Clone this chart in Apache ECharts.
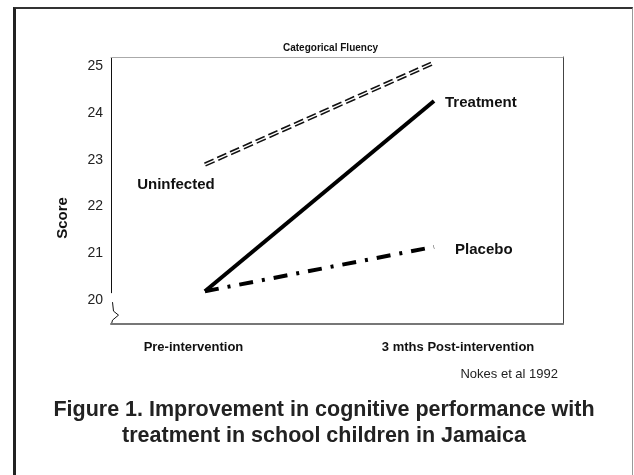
<!DOCTYPE html>
<html>
<head>
<meta charset="utf-8">
<script src="https://cdn.jsdelivr.net/npm/echarts@6/dist/echarts.min.js"></script>
<style>
html, body { margin: 0; padding: 0; background: #fff; }
#frame { position: absolute; left: 13px; top: 7px; width: 616px; height: 480px;
         border-left: 3px solid #222; border-top: 2px solid #333; border-right: 1px solid #999; }
#chart { position: absolute; left: 0; top: 0; width: 634px; height: 475px; }
</style>
</head>
<body>
<div id="frame"></div>
<div id="chart"></div>
<script>
// data
const categories = ['Pre-intervention', '3 mths Post-intervention']
const uninfected = [22.9, 25.08]
const treatment  = [20.19, 24.26]
const placebo    = [20.19, 21.14]
const yTicks     = [20, 21, 22, 23, 24, 25]

const FONT = '"Liberation Sans", Arial, sans-serif'
const X_MIN = -0.41, X_MAX = 1.563      // category 0 / 1 sit inside the box like the original
const Y_MIN = 19.49, Y_MAX = 25.2
const Y_BREAK = 20.15                    // where the left axis is broken

const pts = arr => arr.map((v, i) => [i, v])

const chart = echarts.init(document.getElementById('chart'), null, { renderer: 'canvas' })

chart.setOption({
    animation: false,
    title: {
        text: 'Categorical Fluency',
        left: 278, top: 38,
        textStyle: { fontFamily: FONT, fontSize: 10, fontWeight: 'bold', color: '#111' }
    },
    grid: { left: 111, right: 71, top: 57, bottom: 151, containLabel: false, outerBoundsMode: 'none' },
    xAxis: [
        {
            type: 'value', min: X_MIN, max: X_MAX, position: 'bottom',
            axisLine: { show: true, onZero: false, lineStyle: { color: '#777', width: 2 } },
            axisTick: { show: false },
            splitLine: { show: false },
            axisLabel: {
                customValues: [-0.05, 1.105],
                formatter: v => categories[v < 0.5 ? 0 : 1],
                margin: 17,
                fontFamily: FONT, fontSize: 13, fontWeight: 'bold', color: '#111'
            }
        },
        {
            type: 'value', min: X_MIN, max: X_MAX, position: 'top',
            axisLine: { show: true, onZero: false, lineStyle: { color: '#aaa', width: 1 } },
            axisTick: { show: false }, axisLabel: { show: false }, splitLine: { show: false }
        }
    ],
    yAxis: [
        {
            type: 'value', min: Y_MIN, max: Y_MAX, position: 'left',
            axisLine: { show: false, onZero: false },
            axisTick: { show: false },
            splitLine: { show: false },
            axisLabel: {
                customValues: yTicks,
                margin: 8,
                fontFamily: FONT, fontSize: 14, color: '#222'
            }
        },
        {
            type: 'value', min: Y_MIN, max: Y_MAX, position: 'right',
            axisLine: { show: true, onZero: false, lineStyle: { color: '#444', width: 1 } },
            axisTick: { show: false }, axisLabel: { show: false }, splitLine: { show: false }
        }
    ],
    series: [
        {
            name: 'Uninfected', type: 'line',
            data: pts(uninfected).map((p, i) => i === 0 ? {
                value: p,
                label: {
                    show: true, position: 'inside', offset: [-29, 20],
                    formatter: 'Uninfected',
                    fontFamily: FONT, fontSize: 15, fontWeight: 'bold', color: '#111'
                }
            } : p),
            symbol: 'circle', symbolSize: 0, showSymbol: true,
            lineStyle: { color: '#111', width: 4.5, type: [10, 4], cap: 'butt' },
            z: 3
        },
        {
            name: 'Uninfected-inner', type: 'line',
            data: pts(uninfected),
            showSymbol: false,
            lineStyle: { color: '#fff', width: 1.3 },
            z: 4
        },
        {
            name: 'Treatment', type: 'line',
            data: pts(treatment),
            showSymbol: false,
            lineStyle: { color: '#000', width: 4 },
            endLabel: {
                show: true, formatter: 'Treatment', distance: 11, offset: [0, 2],
                fontFamily: FONT, fontSize: 15, fontWeight: 'bold', color: '#111'
            },
            z: 3
        },
        {
            name: 'Placebo', type: 'line',
            data: pts(placebo),
            showSymbol: false,
            lineStyle: { color: '#000', width: 4, type: [14, 9, 3, 9], cap: 'butt' },
            endLabel: {
                show: true, formatter: 'Placebo', distance: 21, offset: [0, 3],
                fontFamily: FONT, fontSize: 15, fontWeight: 'bold', color: '#111'
            },
            z: 2
        }
    ]
})

// broken left axis, placed from the axes' own scale
const x0 = Math.round(chart.convertToPixel({ xAxisIndex: 0 }, X_MIN)) + 0.5
const yTop = chart.convertToPixel({ yAxisIndex: 0 }, Y_MAX)
const yBrk = chart.convertToPixel({ yAxisIndex: 0 }, Y_BREAK)
const yBot = chart.convertToPixel({ yAxisIndex: 0 }, Y_MIN)

chart.setOption({
    graphic: [
        { type: 'line', shape: { x1: x0, y1: yTop, x2: x0, y2: yBrk }, style: { stroke: '#111', lineWidth: 1 } },
        {
            type: 'polyline',
            shape: { points: [[x0 + 1, yBrk + 9], [x0 + 2, yBrk + 18], [x0 + 7, yBrk + 22], [x0 + 1, yBrk + 27], [x0, yBot]] },
            style: { stroke: '#111', lineWidth: 1, fill: null }
        },
        {
            type: 'text', x: 63, y: 218, rotation: Math.PI / 2,
            style: { text: 'Score', font: 'bold 15px ' + FONT, fill: '#111', textAlign: 'center', textVerticalAlign: 'middle' }
        },
        {
            type: 'text', x: 558, y: 374,
            style: { text: 'Nokes et al 1992', font: '13px ' + FONT, fill: '#222', textAlign: 'right', textVerticalAlign: 'middle' }
        },
        {
            type: 'text', x: 324, y: 410,
            style: { text: 'Figure 1. Improvement in cognitive performance with', font: 'bold 21.5px ' + FONT, fill: '#222', textAlign: 'center', textVerticalAlign: 'middle' }
        },
        {
            type: 'text', x: 324, y: 436,
            style: { text: 'treatment in school children in Jamaica', font: 'bold 21.5px ' + FONT, fill: '#222', textAlign: 'center', textVerticalAlign: 'middle' }
        }
    ]
})
</script>
</body>
</html>
